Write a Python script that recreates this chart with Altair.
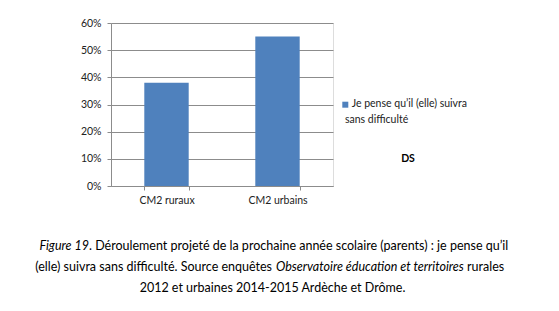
import altair as alt
import pandas as pd

categories = ["CM2 ruraux", "CM2 urbains"]
values = [0.38, 0.55]
series_line1 = "Je pense qu’il (elle) suivra"
series_line2 = "sans difficulté"
side_note = "DS"
cap1_it = "Figure 19"
cap1_rest = ". Déroulement projeté de la prochaine année scolaire (parents) : je pense qu’il"
cap2_a = "(elle) suivra sans difficulté. Source enquêtes"
cap2_it = "Observatoire éducation et territoires"
cap2_c = "rurales"
cap3 = "2012 et urbaines 2014-2015 Ardèche et Drôme."

FONT = "Lato"
BLUE = "#4F81BD"
GRID = "#8C8C8C"
CAP = 12.5

df = pd.DataFrame({"cat": categories, "val": values})

x = alt.X("cat:N", sort=categories, title=None,
          scale=alt.Scale(paddingInner=0.6, paddingOuter=0.3),
          axis=alt.Axis(labelAngle=0, tickBand="extent", tickSize=4,
                        labelPadding=5, domainColor=GRID, tickColor=GRID,
                        labelFont=FONT, labelFontSize=10.5, labelColor="#222222"))
y = alt.Y("val:Q", title=None,
          scale=alt.Scale(domain=[0, 0.6], nice=False),
          axis=alt.Axis(format=".0%", values=[0, 0.1, 0.2, 0.3, 0.4, 0.5, 0.6],
                        tickSize=4, labelPadding=6, domainColor=GRID, tickColor=GRID,
                        gridColor=GRID, gridWidth=1, labelFont=FONT, labelFontSize=10.5,
                        labelColor="#222222"))

bars = alt.Chart(df).mark_bar(color=BLUE).encode(x=x, y=y)

def txt(s, px, py, align="left", style="normal", weight="normal", size=CAP, color="#000000"):
    return alt.Chart(pd.DataFrame({"t": [s]})).mark_text(
        align=align, baseline="alphabetic", font=FONT, fontSize=size,
        fontStyle=style, fontWeight=weight, color=color
    ).encode(text="t:N", x=alt.value(px), y=alt.value(py))

legend_sq = alt.Chart(pd.DataFrame({"t": [series_line1]})).mark_square(
    size=36, color=BLUE, opacity=1).encode(x=alt.value(234.3), y=alt.value(81.7))

layers = [
    bars,
    legend_sq,
    txt(series_line1, 240.7, 84.3, size=10.5, color="#222222"),
    txt(series_line2, 234, 100.3, size=10.5, color="#222222"),
    txt(side_note, 297, 138.7, align="center", weight="bold", size=10.5),
    txt(cap1_it, -22, 227, align="right", style="italic"),
    txt(cap1_rest, -22, 227),
    txt(cap2_a, 161, 248, align="right"),
    txt(cap2_it, 165, 248, style="italic"),
    txt(cap2_c, 356, 248),
    txt(cap3, 161.5, 269, align="center"),
]

chart = alt.layer(*layers).properties(
    width=222, height=163,
    autosize=alt.AutoSizeParams(type="none"),
    padding={"left": 111, "top": 23, "right": 226, "bottom": 125},
).configure_view(stroke=None).configure(background="white")

chart.save("out.html", embed_options={"renderer": "svg", "actions": False})
